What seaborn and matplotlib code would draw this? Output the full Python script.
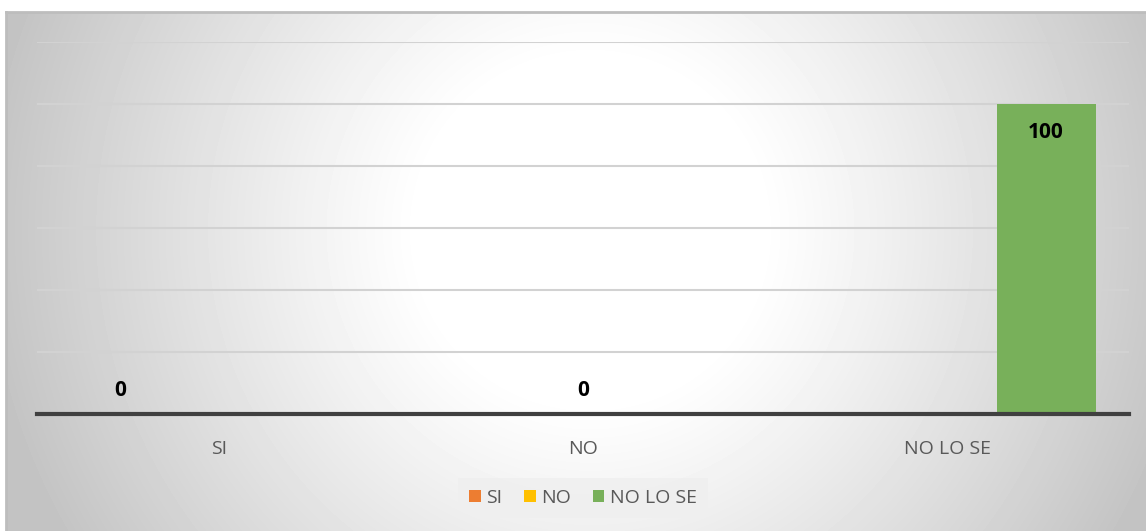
import matplotlib
matplotlib.use('Agg')
import matplotlib.pyplot as plt
import seaborn as sns
import numpy as np
import pandas as pd

# data
categories = ['SI', 'NO', 'NO LO SE']
series = ['SI', 'NO', 'NO LO SE']
values = [0, 0, 100]
colors = ['#ED7D31', '#FFC000', '#78B05A']

W, H = 1146, 531
sns.set_theme(style='white')
plt.rcParams['font.family'] = ['Open Sans', 'DejaVu Sans']

fig = plt.figure(figsize=(W / 100, H / 100), dpi=100)
fig.patch.set_facecolor('white')

# radial grey gradient behind the chart, like the Excel chart area (pixel space)
bg = fig.add_axes([6 / W, 0, 1 - 6 / W, (H - 12) / H])
px, py = np.meshgrid(np.arange(6, W), np.arange(12, H))
r = np.hypot(px - 590, py - 230)
shade = 1 - 0.235 * np.clip((r - 170) / 440, 0, 1) ** 1.1
bg.imshow(shade, cmap='gray', vmin=0, vmax=1, aspect='auto', origin='upper',
          interpolation='bilinear')
bg.set_xticks([])
bg.set_yticks([])
for s in ['right', 'bottom']:
    bg.spines[s].set_visible(False)
for s in ['top', 'left']:
    bg.spines[s].set_color('#bdbdbd')
    bg.spines[s].set_linewidth(2)

ax = fig.add_axes([37 / W, (H - 414) / H, (1129 - 37) / W, (414 - 42) / H])
ax.set_facecolor('none')

df = pd.DataFrame({'categoria': categories, 'serie': series, 'valor': values})
sns.barplot(data=df, x='categoria', y='valor', hue='serie', order=categories,
            hue_order=series, palette=colors, width=0.816, dodge=True, ax=ax,
            linewidth=0, saturation=1, legend=True)

ax.set_ylim(0, 120)
ax.set_yticks(range(0, 121, 20))
ax.yaxis.grid(True, color='#d2d2d2', linewidth=1.5)
ax.set_axisbelow(True)
ax.tick_params(axis='y', left=False, labelleft=False)
ax.tick_params(axis='x', bottom=False, labelsize=14, labelcolor='#595959', pad=13)
ax.set_xlabel('')
ax.set_ylabel('')
for s in ['top', 'left', 'right']:
    ax.spines[s].set_visible(False)
ax.spines['bottom'].set_color('#404040')
ax.spines['bottom'].set_linewidth(3)
ax.spines['bottom'].set_zorder(5)

# data labels
for cont in ax.containers:
    for bar in cont:
        h = bar.get_height()
        if np.isnan(h):
            continue
        off = -28 if h > 0 else 23
        ax.annotate(f'{h:.0f}', (bar.get_x() + bar.get_width() / 2, h),
                    xytext=(0, off), textcoords='offset pixels',
                    ha='center', va='center', fontsize=15, fontweight='bold', color='black')

handles, labels = ax.get_legend_handles_labels()
ax.get_legend().remove()
leg = fig.legend(handles, labels, loc='center', bbox_to_anchor=(583 / W, (H - 498) / H),
                 ncol=3, frameon=True, fontsize=14, handlelength=0.6, handleheight=0.6,
                 handletextpad=0.3, columnspacing=1.1, borderpad=0.55, fancybox=False)
leg.get_frame().set_facecolor('#efefef')
leg.get_frame().set_edgecolor('none')
for t in leg.get_texts():
    t.set_color('#595959')

fig.savefig('out.png', dpi=100)
